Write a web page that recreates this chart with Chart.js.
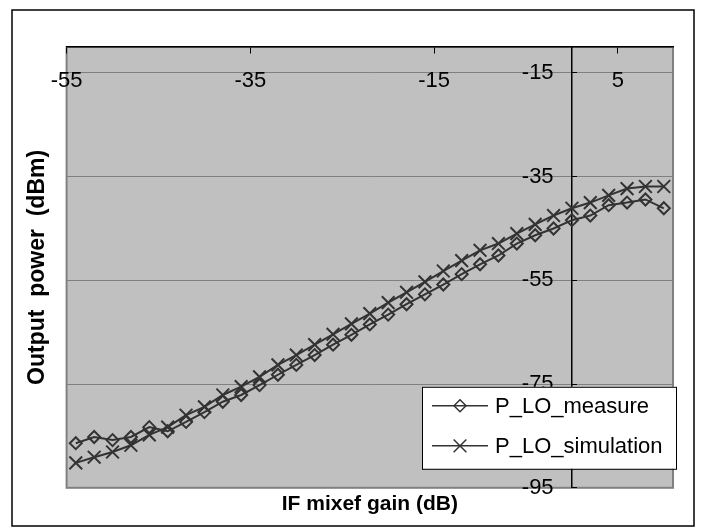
<!DOCTYPE html>
<html>
<head>
<meta charset="utf-8">
<script src="https://cdn.jsdelivr.net/npm/chart.js@4.4.1/dist/chart.umd.min.js"></script>
<style>
  html, body { margin: 0; padding: 0; background: #fff; }
  #wrap { position: relative; width: 703px; height: 530px; }
</style>
</head>
<body>
<div id="wrap"><canvas id="chart" width="703" height="530"></canvas></div>
<script>
// IF mixer gain (dB), one point every 2 dB
const gainValues = [-54, -52, -50, -48, -46, -44, -42, -40, -38, -36, -34, -32, -30, -28, -26, -24, -22,
    -20, -18, -16, -14, -12, -10, -8, -6, -4, -2, 0, 2, 4, 6, 8, 10];
// output power (dBm)
const measureValues = [-86.4, -85.2, -85.8, -85.2, -83.3, -84.1, -82.3, -80.4, -78.4, -77.1, -75.2, -73.2,
    -71.3, -69.4, -67.4, -65.5, -63.5, -61.6, -59.6, -57.7, -55.8, -53.8, -51.9, -50.2, -47.9, -46.3, -45.0,
    -43.4, -42.5, -40.5, -40.0, -39.4, -41.1];
const simulationValues = [-90.2, -89.1, -88.1, -86.8, -84.8, -83.3, -81.0, -79.4, -77.1, -75.5, -73.6, -71.3,
    -69.4, -67.4, -65.4, -63.4, -61.4, -59.3, -57.3, -55.3, -53.2, -51.2, -49.2, -47.9, -46.0, -44.2, -42.5,
    -41.1, -40.0, -38.6, -37.3, -36.9, -36.9];
const seriesNames = ['P_LO_measure', 'P_LO_simulation'];
const xTickValues = [-55, -35, -15, 5];
const yTickValues = [-95, -75, -55, -35, -15];

const FONT = 'Arial, "Liberation Sans", sans-serif';
const LINE = '#333333';

// fond gris de la zone de tracé + cadre extérieur
const frame = {
    id: 'frame',
    beforeDraw(chart) {
        const { ctx, chartArea: a } = chart;
        ctx.save();
        ctx.fillStyle = '#fff';
        ctx.fillRect(0, 0, chart.width, chart.height);
        ctx.strokeStyle = '#000';
        ctx.lineWidth = 1.5;
        ctx.strokeRect(12, 10, 682, 516);
        ctx.fillStyle = '#c0c0c0';
        ctx.fillRect(a.left, a.top, a.right - a.left, a.bottom - a.top);
        ctx.strokeStyle = '#808080';
        ctx.lineWidth = 2;
        ctx.strokeRect(a.left, a.top, a.right - a.left, a.bottom - a.top);
        ctx.restore();
    }
};

function drawMarker(ctx, style, x, y, r) {
    ctx.beginPath();
    if (style === 'rectRot') {
        ctx.moveTo(x - r, y);
        ctx.lineTo(x, y - r);
        ctx.lineTo(x + r, y);
        ctx.lineTo(x, y + r);
        ctx.closePath();
    } else {
        const d = r * Math.SQRT1_2;
        ctx.moveTo(x - d, y - d);
        ctx.lineTo(x + d, y + d);
        ctx.moveTo(x + d, y - d);
        ctx.lineTo(x - d, y + d);
    }
    ctx.stroke();
}

// légende encadrée en bas à droite, dans la zone de tracé
const boxLegend = {
    id: 'boxLegend',
    afterDraw(chart) {
        const { ctx, chartArea: a } = chart;
        const left = a.right - 251, top = a.bottom - 101, w = 254, h = 82;
        ctx.save();
        ctx.fillStyle = '#fff';
        ctx.fillRect(left, top, w, h);
        ctx.strokeStyle = '#000';
        ctx.lineWidth = 1;
        ctx.strokeRect(left + 0.5, top + 0.5, w, h);
        chart.data.datasets.forEach((ds, i) => {
            const y = top + 19 + i * 40;
            ctx.strokeStyle = LINE;
            ctx.lineWidth = 1.5;
            ctx.beginPath();
            ctx.moveTo(left + 10, y);
            ctx.lineTo(left + 66, y);
            ctx.stroke();
            drawMarker(ctx, ds.pointStyle, left + 38, y, ds.pointStyle === 'rectRot' ? 6 : 9);
            ctx.fillStyle = '#000';
            ctx.font = '22px ' + FONT;
            ctx.textBaseline = 'middle';
            ctx.textAlign = 'left';
            ctx.fillText(ds.label, left + 73, y + 1);
        });
        ctx.restore();
    }
};

new Chart(document.getElementById('chart'), {
    type: 'line',
    data: {
        datasets: [{
            label: seriesNames[0],
            data: gainValues.map((g, i) => ({ x: g, y: measureValues[i] })),
            borderColor: LINE,
            borderWidth: 2,
            pointStyle: 'rectRot',
            pointRadius: 6,
            pointBorderWidth: 2,
            pointBorderColor: LINE,
            pointBackgroundColor: 'rgba(0,0,0,0)',
            tension: 0
        }, {
            label: seriesNames[1],
            data: gainValues.map((g, i) => ({ x: g, y: simulationValues[i] })),
            borderColor: LINE,
            borderWidth: 2,
            pointStyle: 'crossRot',
            pointRadius: 9,
            pointBorderWidth: 2,
            pointBorderColor: LINE,
            pointBackgroundColor: 'rgba(0,0,0,0)',
            tension: 0
        }]
    },
    options: {
        responsive: false,
        animation: false,
        layout: { padding: { left: 12, top: 47, right: 30, bottom: 0 } },
        scales: {
            x: {
                type: 'linear',
                min: -55,
                max: 11,
                position: { y: -10 },
                afterBuildTicks: scale => { scale.ticks = xTickValues.map(v => ({ value: v })); },
                grid: { display: true, drawOnChartArea: false, drawTicks: true, tickLength: 6, tickColor: '#000', tickWidth: 1 },
                border: { display: true, color: '#000', width: 1.5 },
                ticks: { color: '#000', font: { family: FONT, size: 22 }, padding: 15, maxRotation: 0, autoSkip: false }
            },
            y: {
                type: 'linear',
                min: -95,
                max: -10,
                position: { x: 0 },
                afterBuildTicks: scale => { scale.ticks = yTickValues.map(v => ({ value: v })); },
                grid: { color: '#808080', lineWidth: 1, drawTicks: true, tickLength: -6, tickColor: '#000', tickWidth: 1 },
                border: { display: true, color: '#000', width: 1.5 },
                ticks: {
                    color: '#000',
                    font: { family: FONT, size: 22 },
                    autoSkip: false,
                    callback: v => v + '   '
                }
            }
        },
        plugins: {
            legend: { display: false },
            tooltip: { enabled: false },
            title: {
                display: true,
                text: 'IF mixef gain (dB)',
                position: 'bottom',
                fullSize: false,
                color: '#000',
                font: { family: FONT, size: 21, weight: 'bold' },
                padding: { top: 4, bottom: 13 }
            },
            subtitle: {
                display: true,
                text: 'Output  power  (dBm)',
                position: 'left',
                fullSize: false,
                color: '#000',
                font: { family: FONT, size: 23, weight: 'bold' },
                padding: { top: 12, bottom: 15 }
            }
        }
    },
    plugins: [frame, boxLegend]
});
</script>
</body>
</html>
